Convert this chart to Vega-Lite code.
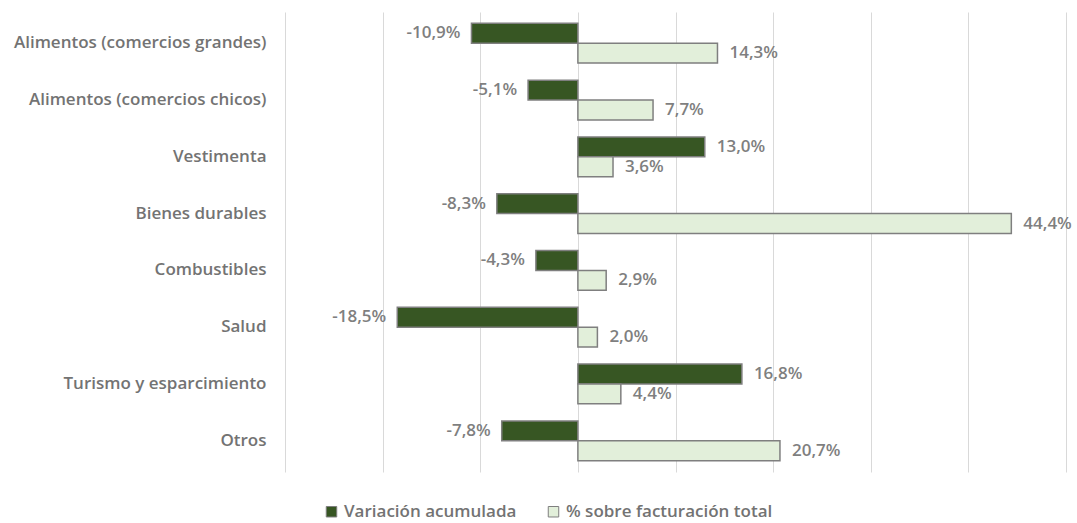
{
  "$schema": "https://vega.github.io/schema/vega-lite/v6.json",
  "width": 781,
  "height": 460,
  "autosize": {"type": "none"},
  "padding": {"left": 285, "top": 12, "right": 11, "bottom": 51},
  "config": {
    "locale": {"number": {"decimal": ",", "thousands": ".", "grouping": [3], "currency": ["$", ""], "minus": "-"}},
    "view": {"stroke": null},
    "font": "Open Sans"
  },
  "data": {
    "values": [
      {"cat": "Alimentos (comercios grandes)", "serie": "Variación acumulada", "v": -0.109},
      {"cat": "Alimentos (comercios grandes)", "serie": "% sobre facturación total", "v": 0.143},
      {"cat": "Alimentos (comercios chicos)", "serie": "Variación acumulada", "v": -0.051},
      {"cat": "Alimentos (comercios chicos)", "serie": "% sobre facturación total", "v": 0.077},
      {"cat": "Vestimenta", "serie": "Variación acumulada", "v": 0.130},
      {"cat": "Vestimenta", "serie": "% sobre facturación total", "v": 0.036},
      {"cat": "Bienes durables", "serie": "Variación acumulada", "v": -0.083},
      {"cat": "Bienes durables", "serie": "% sobre facturación total", "v": 0.444},
      {"cat": "Combustibles", "serie": "Variación acumulada", "v": -0.043},
      {"cat": "Combustibles", "serie": "% sobre facturación total", "v": 0.029},
      {"cat": "Salud", "serie": "Variación acumulada", "v": -0.185},
      {"cat": "Salud", "serie": "% sobre facturación total", "v": 0.020},
      {"cat": "Turismo y esparcimiento", "serie": "Variación acumulada", "v": 0.168},
      {"cat": "Turismo y esparcimiento", "serie": "% sobre facturación total", "v": 0.044},
      {"cat": "Otros", "serie": "Variación acumulada", "v": -0.078},
      {"cat": "Otros", "serie": "% sobre facturación total", "v": 0.207}
    ]
  },
  "encoding": {
    "y": {
      "field": "cat", "type": "nominal", "sort": null,
      "scale": {"paddingInner": 0.3, "paddingOuter": 0.2},
      "axis": {"title": null, "domain": false, "ticks": false, "labelFont": "Open Sans", "labelFontSize": 17, "labelFontWeight": 600, "labelColor": "#737373", "labelPadding": 19, "labelLimit": 0}
    },
    "yOffset": {
      "field": "serie", "type": "nominal",
      "sort": ["Variación acumulada", "% sobre facturación total"],
      "scale": {"paddingInner": 0}
    },
    "x": {
      "field": "v", "type": "quantitative",
      "scale": {"domain": [-0.3, 0.5], "nice": false, "zero": false},
      "axis": {"title": null, "labels": false, "ticks": false, "domain": false, "grid": true, "gridColor": "#d9d9d9", "gridWidth": 1, "values": [-0.3, -0.2, -0.1, 0, 0.1, 0.2, 0.3, 0.4, 0.5]}
    }
  },
  "layer": [
    {
      "mark": {"type": "bar", "stroke": "#7f7f7f", "strokeWidth": 1.5},
      "encoding": {
        "color": {
          "field": "serie", "type": "nominal",
          "sort": ["Variación acumulada", "% sobre facturación total"],
          "scale": {"domain": ["Variación acumulada", "% sobre facturación total"], "range": ["#375623", "#e2efda"]},
          "legend": {
            "title": null, "orient": "none", "direction": "horizontal",
            "legendX": 38, "legendY": 491,
            "symbolType": "square", "symbolSize": 110, "symbolStrokeColor": "#7f7f7f", "symbolStrokeWidth": 1,
            "labelFont": "Open Sans", "labelFontSize": 17, "labelFontWeight": 600, "labelColor": "#737373", "labelLimit": 0,
            "labelOffset": 4, "columnPadding": 28, "symbolOpacity": 1
          }
        }
      }
    },
    {
      "transform": [{"filter": "datum.v >= 0"}],
      "mark": {"type": "text", "align": "left", "dx": 12, "font": "Open Sans", "fontSize": 17, "fontWeight": 600, "color": "#7f7f7f"},
      "encoding": {"text": {"field": "v", "type": "quantitative", "format": ".1%"}}
    },
    {
      "transform": [{"filter": "datum.v < 0"}],
      "mark": {"type": "text", "align": "right", "dx": -11, "font": "Open Sans", "fontSize": 17, "fontWeight": 600, "color": "#7f7f7f"},
      "encoding": {"text": {"field": "v", "type": "quantitative", "format": ".1%"}}
    }
  ]
}
